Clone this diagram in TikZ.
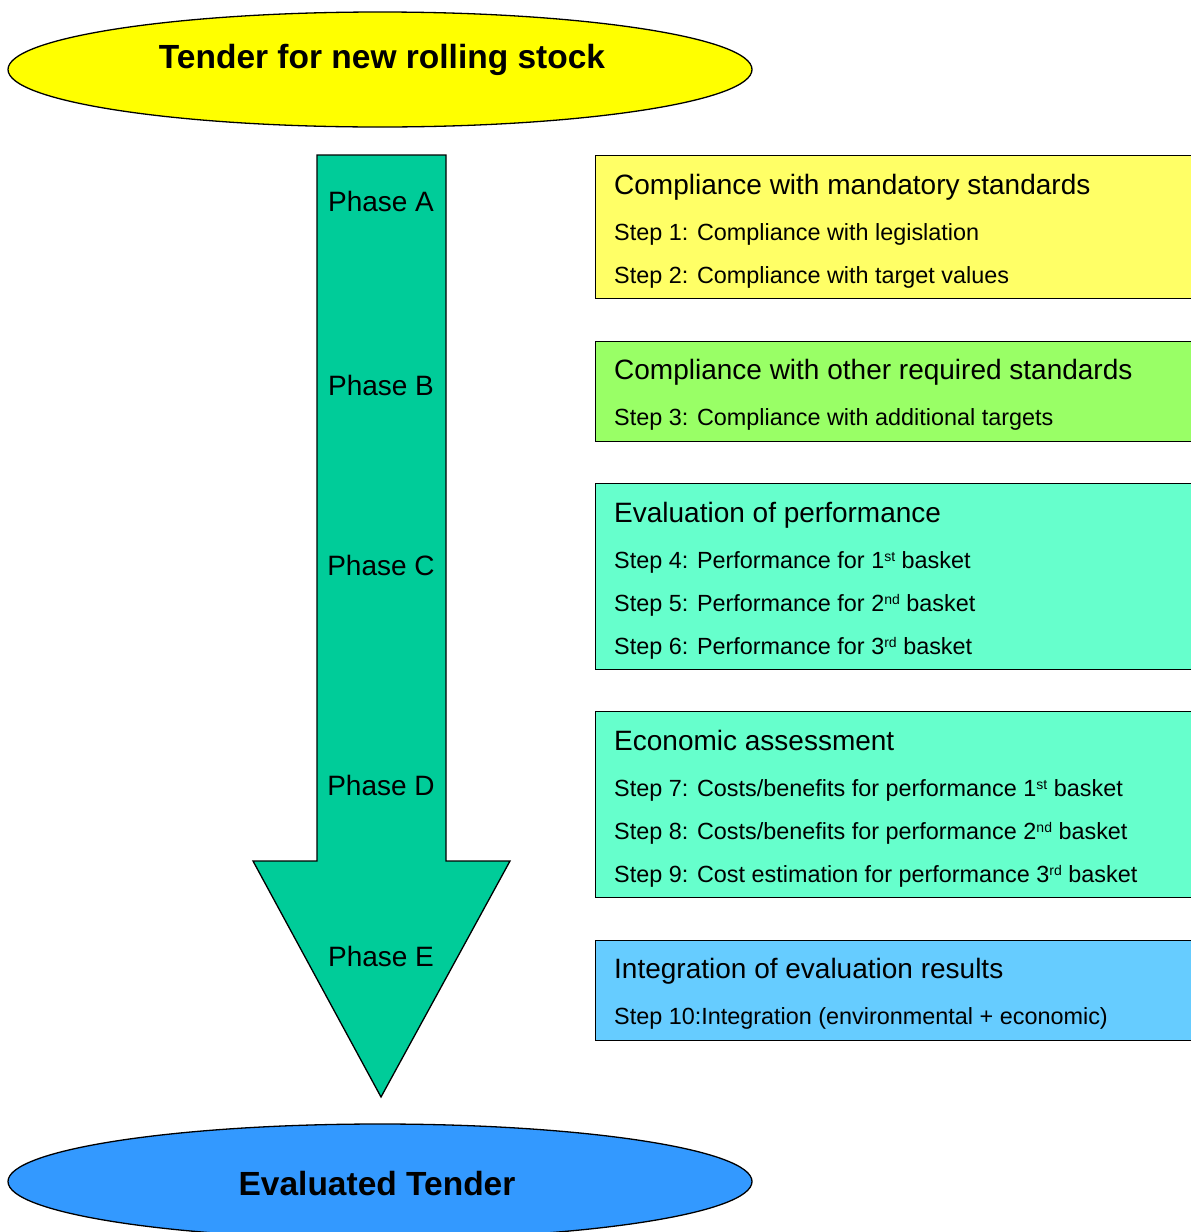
\documentclass[tikz,border=0pt]{standalone}
\usepackage{fontspec}
\setmainfont{Liberation Sans}
\usetikzlibrary{shapes.geometric}
\definecolor{topY}{HTML}{FFFF00}
\definecolor{botB}{HTML}{3399FF}
\definecolor{arrowG}{HTML}{00CC99}
\definecolor{boxY}{HTML}{FFFF66}
\definecolor{boxG}{HTML}{99FF66}
\definecolor{boxT}{HTML}{66FFCC}
\definecolor{boxB}{HTML}{66CCFF}
\newcommand{\supx}[1]{\raisebox{6.5pt}{\fontsize{14}{14}\selectfont #1}}
\begin{document}
\begin{tikzpicture}[x=1pt,y=-1pt,
  outline/.style={draw=black,line width=1.3pt},
  oval/.style={outline,ellipse,minimum width=744pt,minimum height=115pt,inner sep=0pt},
  bigtxt/.style={inner sep=0pt,font=\fontsize{33.5}{38}\selectfont\bfseries},
  phasetxt/.style={inner sep=0pt,font=\fontsize{28}{32}\selectfont},
  panel/.style={outline,anchor=north west,minimum width=620pt,inner sep=0pt},
  headtxt/.style={inner sep=0pt,anchor=base west,font=\fontsize{28}{32}\selectfont},
  steptxt/.style={inner sep=0pt,anchor=base west,font=\fontsize{23.4}{28}\selectfont}]
\clip (0,0) rectangle (1191,1232);
\fill[white] (0,0) rectangle (1191,1232);
% ellipses
\node[oval,fill=topY] (start) at (380,69.5) {};
\node[bigtxt,anchor=base] (starttxt) at (382,68) {Tender for new rolling stock};
\node[oval,fill=botB] (finish) at (380,1181.5) {};
\node[bigtxt,anchor=base] (finishtxt) at (377,1195) {Evaluated Tender};
% big arrow
\coordinate (sa) at (317,155);
\coordinate (sb) at (446,155);
\coordinate (sc) at (446,861);
\coordinate (hr) at (510,861);
\coordinate (tip) at (381,1097);
\coordinate (hl) at (253,861);
\coordinate (sd) at (317,861);
\draw[outline,fill=arrowG,line join=miter] (sa) -- (sb) -- (sc) -- (hr) -- (tip) -- (hl) -- (sd) -- cycle;
\node[phasetxt] (pa) at (381,201) {Phase A};
\node[phasetxt] (pb) at (381,385) {Phase B};
\node[phasetxt] (pc) at (381,565) {Phase C};
\node[phasetxt] (pd) at (381,785) {Phase D};
\node[phasetxt] (pe) at (381,956) {Phase E};
% panels
\node[panel,fill=boxY,minimum height=143pt] (b1) at (595,155) {};
\node[headtxt] (b1h) at (614,194) {Compliance with mandatory standards};
\node[steptxt] (s1) at (614,240) {Step 1: Compliance with legislation};
\node[steptxt] (s2) at (614,283) {Step 2: Compliance with target values};
\node[panel,fill=boxG,minimum height=100pt] (b2) at (595,341) {};
\node[headtxt] (b2h) at (614,379) {Compliance with other required standards};
\node[steptxt] (s3) at (614,425) {Step 3: Compliance with additional targets};
\node[panel,fill=boxT,minimum height=186pt] (b3) at (595,483) {};
\node[headtxt] (b3h) at (614,522) {Evaluation of performance};
\node[steptxt] (s4) at (614,568) {Step 4: Performance for 1\supx{st} basket};
\node[steptxt] (s5) at (614,611) {Step 5: Performance for 2\supx{nd} basket};
\node[steptxt] (s6) at (614,654) {Step 6: Performance for 3\supx{rd} basket};
\node[panel,fill=boxT,minimum height=186pt] (b4) at (595,711) {};
\node[headtxt] (b4h) at (614,750) {Economic assessment};
\node[steptxt] (s7) at (614,796) {Step 7: Costs/benefits for performance 1\supx{st} basket};
\node[steptxt] (s8) at (614,839) {Step 8: Costs/benefits for performance 2\supx{nd} basket};
\node[steptxt] (s9) at (614,882) {Step 9: Cost estimation for performance 3\supx{rd} basket};
\node[panel,fill=boxB,minimum height=100pt] (b5) at (595,940) {};
\node[headtxt] (b5h) at (614,978) {Integration of evaluation results};
\node[steptxt] (s10) at (614,1024) {Step 10:Integration (environmental + economic)};
\end{tikzpicture}
\end{document}
